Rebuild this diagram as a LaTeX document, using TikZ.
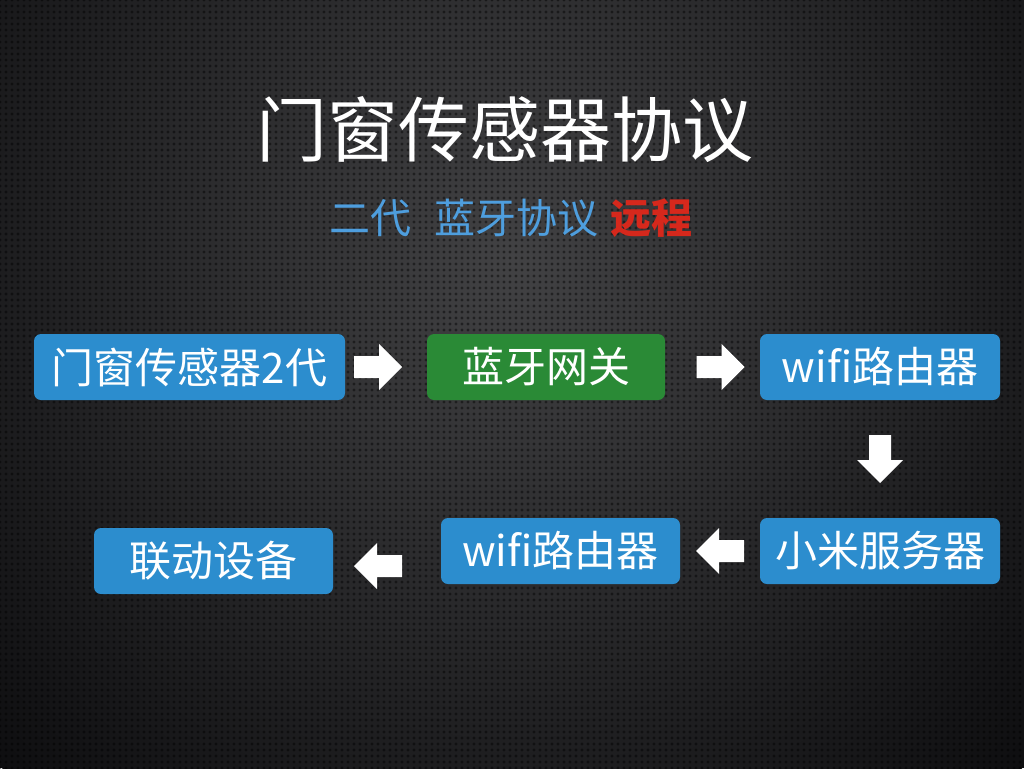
\documentclass[tikz,border=0pt]{standalone}
\usepackage{fontspec}
\newfontfamily\cjk{Noto Sans CJK SC}
\usetikzlibrary{patterns.meta,calc}
\definecolor{boxblue}{RGB}{44,141,206}
\definecolor{boxgreen}{RGB}{42,138,54}
\definecolor{subblue}{RGB}{78,158,222}
\definecolor{subred}{RGB}{214,40,28}
\definecolor{bgin}{RGB}{66,66,68}
\definecolor{bgout}{RGB}{14,14,16}
\begin{document}
\begin{tikzpicture}[x=1pt,y=-1pt,
  box/.style={rounded corners=7pt, minimum width=240pt, minimum height=66pt, inner sep=0pt,
    text=white, font=\cjk\fontsize{42}{46}\selectfont},
  bluebox/.style={box, fill=boxblue},
  greenbox/.style={box, fill=boxgreen},
  barrow/.pic={\fill[white] (-24,-11) -- (1,-11) -- (1,-23) -- (24,0) -- (1,23) -- (1,11) -- (-24,11) -- cycle;}
]
\useasboundingbox (0,0) rectangle (1024,768);
\begin{scope}
  \clip (0,0) rectangle (1024,768);
  \fill[bgout] (0,0) rectangle (1024,768);
  \shade[inner color=bgin, outer color=bgout] (512,260) circle (720);
  \fill[pattern={Dots[distance=6pt, radius=1.6pt]}, pattern color=black, opacity=0.45] (0,0) rectangle (1024,768);
\end{scope}

\node[text=white, font=\cjk\fontsize{71}{80}\selectfont] (title) at (505,130) {门窗传感器协议};
\node[font=\cjk\fontsize{41}{46}\selectfont] (sub) at (511,218)
  {\textcolor{subblue}{二代\hspace{0.55em}蓝牙协议}\hspace{0.3em}\textcolor{subred}{\bfseries 远程}};

\node[bluebox, minimum width=311pt] (sensor) at (189.5,367) {门窗传感器2代};
\node[greenbox, minimum width=238pt] (gw) at (546,367) {蓝牙网关};
\node[bluebox] (wifi1) at (880,367) {wifi路由器};
\node[bluebox] (mi) at (880,551) {小米服务器};
\node[bluebox, minimum width=239pt] (wifi2) at (560.5,551) {wifi路由器};
\node[bluebox, minimum width=239pt] (dev) at (213.5,561) {联动设备};

\pic at ($(sensor.east)!0.5!(gw.west)+(-8,0)$) {barrow};
\pic at ($(gw.east)!0.5!(wifi1.west)+(8,0)$) {barrow};
\pic[rotate=-90] at ($(wifi1.south)!0.5!(mi.north)$) {barrow};
\pic[rotate=180] at ($(mi.west)!0.5!(wifi2.east)$) {barrow};
\pic[rotate=180] at ($(wifi2.west)!0.5!(dev.east)+(-9,10)$) {barrow};
\end{tikzpicture}
\end{document}
